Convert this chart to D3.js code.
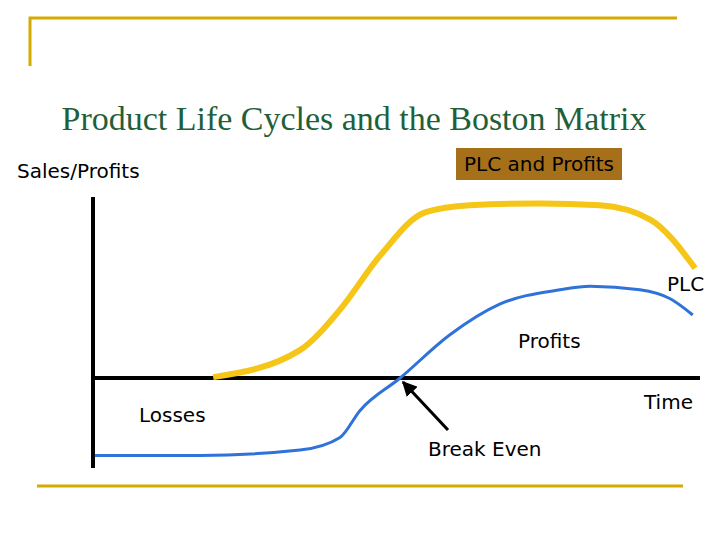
<!DOCTYPE html>
<html><head><meta charset="utf-8">
<script src="https://cdn.jsdelivr.net/npm/d3@7"></script>
<style>body{margin:0;background:#fff}</style>
</head><body>
<svg id="c" width="720" height="540"></svg>
<script>
// time axis 0..10, value axis: 0 = break-even line
const plcTime = [1.98, 3.41, 4.07, 4.73, 5.47, 6.21, 7.36, 8.35, 9.18, 9.92];
const plcValue = [0.5, 15.5, 38, 68, 92, 96, 97, 96, 88, 61];
const profitTime = [0.03, 1.76, 3.41, 4.07, 4.4, 5.06, 5.88, 6.7, 7.69, 8.19, 9.01, 9.51, 9.88];
const profitValue = [-43, -43, -40, -33, -18, 0, 24, 41, 49, 51, 49, 44, 35];

const svg = d3.select("#c");
const gold = "#D4AA00";

const x = d3.scaleLinear().domain([0, 10]).range([93, 700]);
const y = d3.scaleLinear().domain([0, 100]).range([378, 198]);

// frame decoration
svg.append("path").attr("d", "M30,66V18H677").attr("fill", "none").attr("stroke", gold).attr("stroke-width", 3);
svg.append("line").attr("x1", 37).attr("x2", 683).attr("y1", 486).attr("y2", 486)
  .attr("stroke", gold).attr("stroke-width", 3);

svg.append("text").attr("x", 354).attr("y", 130).attr("text-anchor", "middle")
  .style("font-family", "Liberation Serif, serif").style("font-size", "34px").attr("fill", "#1F5F3A")
  .attr("textLength", 585)
  .text("Product Life Cycles and the Boston Matrix");

const sans = "DejaVu Sans, sans-serif";
svg.append("text").attr("x", 17).attr("y", 178).style("font-family", sans).style("font-size", "20px").text("Sales/Profits");

svg.append("rect").attr("x", 456).attr("y", 148).attr("width", 166).attr("height", 32).attr("fill", "#A6701A");
svg.append("text").attr("x", 539).attr("y", 171).attr("text-anchor", "middle").style("font-family", sans)
  .style("font-size", "20px").text("PLC and Profits");

// axes
svg.append("line").attr("x1", x(0)).attr("x2", x(0)).attr("y1", 197).attr("y2", 468).attr("stroke", "#000").attr("stroke-width", 4);
svg.append("line").attr("x1", x(0)).attr("x2", x(10)).attr("y1", y(0)).attr("y2", y(0)).attr("stroke", "#000").attr("stroke-width", 4);

const line = d3.line().x(d => x(d[0])).y(d => y(d[1])).curve(d3.curveMonotoneX);
svg.append("path").datum(d3.zip(profitTime, profitValue)).attr("d", line)
  .attr("fill", "none").attr("stroke", "#2F72DA").attr("stroke-width", 3);
svg.append("path").datum(d3.zip(plcTime, plcValue)).attr("d", line)
  .attr("fill", "none").attr("stroke", "#F5C518").attr("stroke-width", 6);

// arrow to break-even
svg.append("defs").append("marker").attr("id", "ah").attr("viewBox", "0 0 10 10").attr("refX", 9).attr("refY", 5)
  .attr("markerWidth", 5).attr("markerHeight", 5).attr("orient", "auto")
  .append("path").attr("d", "M0,0L10,5L0,10z");
svg.append("line").attr("x1", 448).attr("y1", 430).attr("x2", 403).attr("y2", 382)
  .attr("stroke", "#000").attr("stroke-width", 3).attr("marker-end", "url(#ah)");

const labels = [["PLC", 667, 291], ["Profits", 518, 348], ["Time", 644, 409], ["Losses", 139, 422], ["Break Even", 428, 456]];
labels.forEach(l => svg.append("text").attr("x", l[1]).attr("y", l[2]).style("font-family", sans).style("font-size", "20px").text(l[0]));
</script>
</body></html>
